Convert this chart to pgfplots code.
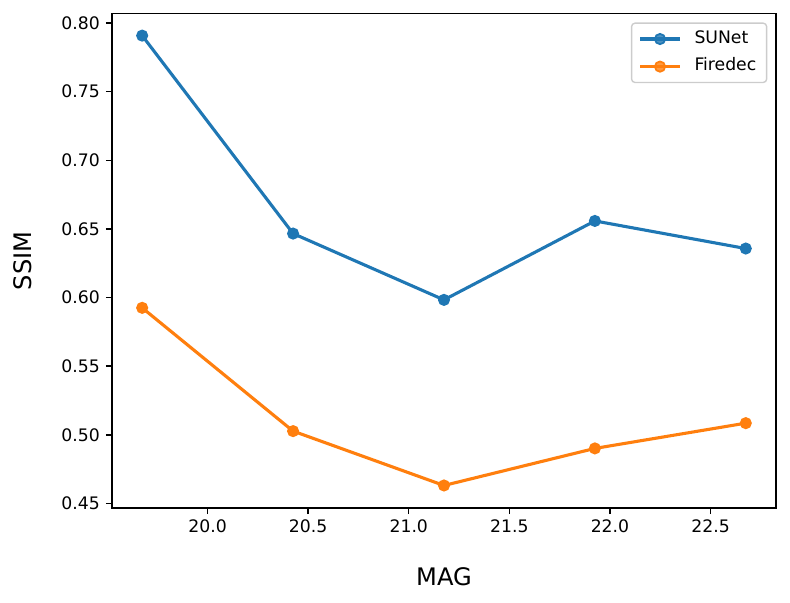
\documentclass[border=0pt]{standalone}
\usepackage{pgfplots}
\pgfplotsset{compat=1.18}
\usepackage{fontspec}
\setmainfont{DejaVu Sans}
\definecolor{cblue}{HTML}{1F77B4}
\definecolor{corange}{HTML}{FF7F0E}
\begin{document}
\begin{tikzpicture}
\useasboundingbox (-64.96pt,-55.1pt) rectangle (393.24pt,294.64pt);
\begin{axis}[
  at={(0pt,0pt)}, anchor=south west,
  scale only axis,
  width=385.1pt, height=286.8pt,
  xmin=19.525, xmax=22.825,
  ymin=0.4467, ymax=0.8069,
  xtick={20,20.5,21,21.5,22,22.5},
  ytick={0.45,0.50,0.55,0.60,0.65,0.70,0.75,0.80},
  xticklabel style={/pgf/number format/.cd, fixed, fixed zerofill, precision=1},
  yticklabel style={/pgf/number format/.cd, fixed, fixed zerofill, precision=2},
  /pgf/number format/assume math mode=true,
  tick align=outside,
  major tick length=3.5pt,
  tick style={line width=0.8pt, black},
  xtick pos=bottom, ytick pos=left,
  axis line style={line width=0.8pt},
  every axis plot/.append style={line width=1.8pt},
  ticklabel style={font=\fontsize{10}{12}\selectfont},
  xlabel={MAG}, ylabel={SSIM},
  label style={font=\fontsize{14}{16}\selectfont},
  xlabel style={at={(axis description cs:0.5,-0.1396)}, anchor=center},
  ylabel style={at={(axis description cs:-0.134,0.5)}, anchor=center},
  legend cell align=left,
  legend image code/.code={\draw[#1, mark repeat=2, mark phase=2] plot coordinates {(0pt,0pt)(11.6pt,0pt)(23.2pt,0pt)};},
  legend style={
    at={(1,1)}, anchor=north east, xshift=-5pt, yshift=-5.2pt,
    draw=black!20, line width=0.8pt, rounded corners=2pt,
    fill=white, fill opacity=0.8, text opacity=1,
    inner xsep=4pt, inner ysep=2.2pt, row sep=2pt, column sep=5.5pt,
    font=\fontsize{10}{12}\selectfont,
    nodes={inner sep=2pt, text height=7.5pt, text depth=2.5pt},
  },
]
\addplot[color=cblue, mark=*, mark size=3pt, mark options={fill=cblue, draw=cblue, line width=1pt}] coordinates {
  (19.675,0.7908) (20.425,0.6466) (21.175,0.5983) (21.925,0.6558) (22.675,0.6357)
};
\addlegendentry{SUNet}
\addplot[color=corange, mark=*, mark size=3pt, mark options={fill=corange, draw=corange, line width=1pt}] coordinates {
  (19.675,0.5925) (20.425,0.5027) (21.175,0.4631) (21.925,0.4901) (22.675,0.5085)
};
\addlegendentry{Firedec}
\end{axis}
\end{tikzpicture}
\end{document}
